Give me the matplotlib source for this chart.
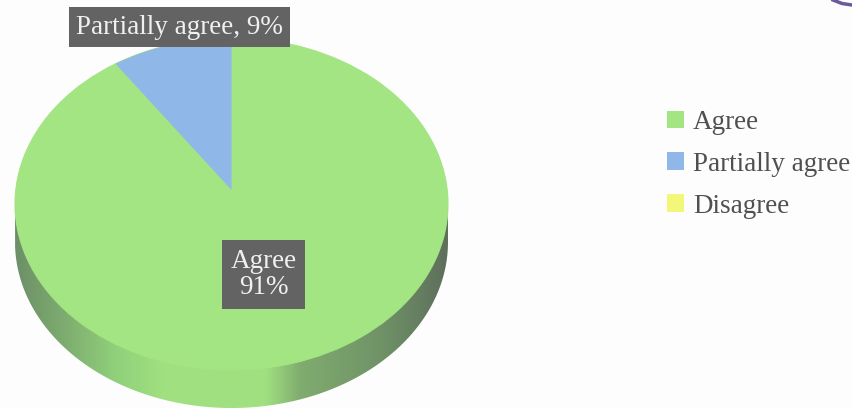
import numpy as np
import matplotlib
matplotlib.use("Agg")
import matplotlib.pyplot as plt
from matplotlib.patches import PathPatch, Patch
from matplotlib.path import Path
from matplotlib.colors import LinearSegmentedColormap
from matplotlib.lines import Line2D

categories = ["Agree", "Partially agree", "Disagree"]
values = [91, 9, 0]
colors = ["#a3e582", "#8fb8e8", "#f2f77a"]

# shading of the pie wall from left to right
wall_stops = [0.0, 0.12, 0.23, 0.34, 0.58, 0.66, 0.85, 1.0]
wall_colors = ["#6d8f68", "#7fae70", "#90d07a", "#a0e080", "#a0e080", "#80ac6f", "#6f9267", "#5e6f5c"]

W, H = 852, 408
plt.rcParams["font.family"] = ["Liberation Serif", "DejaVu Serif"]

fig = plt.figure(figsize=(W / 100, H / 100), dpi=100, facecolor="#fdfdfd")

# top face of the pie, squashed by giving the axes a wide box
# the box runs on to the bottom of the figure so the wall fits in it
left, right, top, bottom = 15, 448, 38, 370
ry = (bottom - top) / 2
cy = top + ry
depth = 38 / ry        # height of the wall
apex = (cy - 190) / ry  # the slices meet above the middle of the ellipse
ax = fig.add_axes([left / W, 0, (right - left) / W, (H - top) / H])

share = 360 * values[1] / sum(values)
wedges, _ = ax.pie(values, colors=[colors[0], colors[0], colors[2]], startangle=90 + share,
                   radius=1, wedgeprops={"linewidth": 0.8, "edgecolor": colors[0]})
ax.set_aspect("auto")
for w in wedges:
    w.set_zorder(3)

# blue slice redrawn so that its point sits on the shifted apex
arc = np.radians(np.linspace(90, 90 + share, 60))
ax.fill(np.r_[0, np.cos(arc)], np.r_[apex, np.sin(arc)], color=colors[1], lw=0, zorder=4)

# wall below the top face
t = np.linspace(np.pi, 2 * np.pi, 200)
wall_x = np.r_[-1, np.cos(t), 1]
wall_y = np.r_[0.0, np.sin(t) - depth, 0.0]
cmap = LinearSegmentedColormap.from_list("wall", list(zip(wall_stops, wall_colors)))
ylow = 1 - (H - top) / ry
img = ax.imshow(np.linspace(0, 1, 256).reshape(1, -1), cmap=cmap, extent=(-1, 1, ylow, 0),
                aspect="auto", zorder=1)
clip = PathPatch(Path(np.c_[wall_x, wall_y]), transform=ax.transData, facecolor="none", edgecolor="none")
ax.add_patch(clip)
img.set_clip_path(clip)
ax.set_xlim(-1, 1)
ax.set_ylim(ylow, 1)

# data labels
fig.text(179.5 / W, 1 - 27 / H, "Partially agree, 9%", color="#f0f0f0", fontsize=19.5,
         ha="center", va="center", zorder=5,
         bbox={"facecolor": "#636363", "edgecolor": "none", "pad": 5})
fig.text(263.5 / W, 1 - 274.5 / H, "Agree\n91%", color="#f0f0f0", fontsize=19.5,
         ha="center", va="center", linespacing=1.1, zorder=5,
         bbox={"facecolor": "#636363", "edgecolor": "none", "pad": 6})

# legend
handles = [Patch(facecolor=c, edgecolor="none") for c in colors]
fig.legend(handles, categories, loc="upper left", bbox_to_anchor=(667 / W, 1 - 110 / H),
           frameon=False, fontsize=19.5, labelcolor="#505050", handlelength=0.63, handleheight=0.63,
           handletextpad=0.33, labelspacing=0.62, borderpad=0, borderaxespad=0)

# bit of a purple stroke at the top right corner of the scan
fig.add_artist(Line2D([833 / W, 842 / W, 852 / W], [1, 1 - 3.5 / H, 1 - 5 / H], color="#6a5a9a", lw=2.5))

fig.savefig("out.png", dpi=100, facecolor=fig.get_facecolor())
